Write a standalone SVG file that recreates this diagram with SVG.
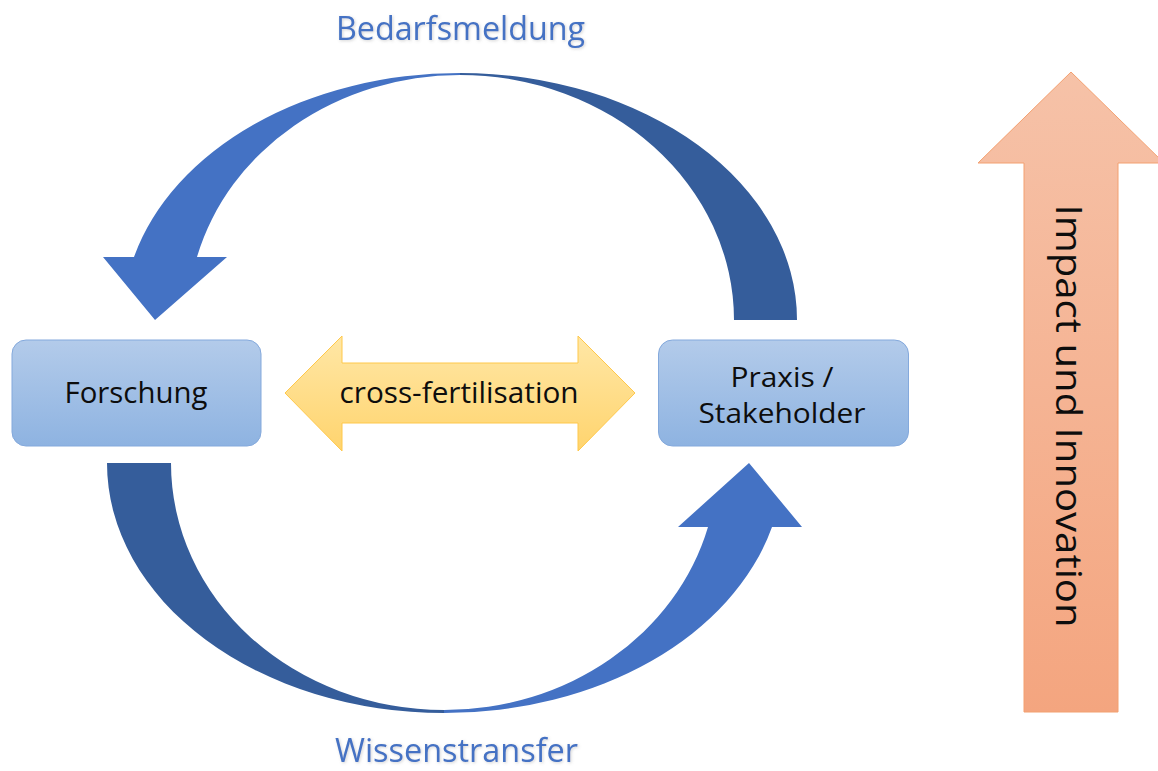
<svg xmlns="http://www.w3.org/2000/svg" width="1158" height="771" viewBox="0 0 1158 771">
  <defs>
    <linearGradient id="boxGrad" x1="0" y1="0" x2="0" y2="1">
      <stop offset="0" stop-color="#B3CBEA"/>
      <stop offset="1" stop-color="#8EB3E1"/>
    </linearGradient>
    <linearGradient id="yellowGrad" x1="0" y1="0" x2="0" y2="1">
      <stop offset="0" stop-color="#FFE7A6"/>
      <stop offset="1" stop-color="#FFD46E"/>
    </linearGradient>
    <linearGradient id="orangeGrad" x1="0" y1="0" x2="0" y2="1">
      <stop offset="0" stop-color="#F6C2A8"/>
      <stop offset="1" stop-color="#F4A57F"/>
    </linearGradient>
    <filter id="glow" x="-10%" y="-30%" width="120%" height="160%">
      <feGaussianBlur in="SourceAlpha" stdDeviation="1.4" result="b"/>
      <feOffset in="b" dx="1" dy="1" result="o"/>
      <feFlood flood-color="#808080" flood-opacity="0.35"/>
      <feComposite in2="o" operator="in" result="s"/>
      <feMerge><feMergeNode in="s"/><feMergeNode in="SourceGraphic"/></feMerge>
    </filter>
  </defs>
  <style>
    .box { fill: url(#boxGrad); stroke: #84A9DC; stroke-width: 1; }
    .txt { font-family: "Open Sans", "Liberation Sans", sans-serif; fill: #0D0D0D; text-anchor: middle; }
    .lbl { font-family: "Open Sans", "Liberation Sans", sans-serif; fill: #4472C4; text-anchor: middle; font-size: 33px; }
    .dark { fill: #355D9B; }
    .light { fill: #4472C4; }
  </style>

  <g id="connectors">
    <g id="top-arrow">
      <path class="dark" d="M 460,73 A 337,247 0 0 1 797,320 L 734,320 A 274,245 0 0 0 460,75 Z"/>
      <path class="light" d="M 460,73 A 337,247 0 0 0 134,257 L 103,257 L 155,320 L 227,257 L 197,257 A 272,245 0 0 1 460,75 Z"/>
    </g>
    <g id="bottom-arrow">
      <path class="dark" d="M 107,463 A 337,250 0 0 0 444,713 L 444,710 A 273,247 0 0 1 171,463 Z"/>
      <path class="light" d="M 444,713 A 339,250 0 0 0 772,527 L 802,527 L 749,463 L 678,527 L 708,527 A 273,247 0 0 1 444,710 Z"/>
    </g>
    <g id="cross-arrow">
      <path d="M 285,393 L 342,336 L 342,363 L 578,363 L 578,336 L 635,393 L 578,451 L 578,423 L 342,423 L 342,451 Z" fill="url(#yellowGrad)" stroke="#FFC84A" stroke-width="1"/>
      <text class="txt" x="459" y="403" font-size="30" textLength="239" lengthAdjust="spacingAndGlyphs">cross-fertilisation</text>
    </g>
  </g>

  <g id="forschung">
    <rect class="box" x="12" y="340" width="249" height="106" rx="14" ry="14"/>
    <text class="txt" x="136" y="403" font-size="30" textLength="143" lengthAdjust="spacingAndGlyphs">Forschung</text>
  </g>

  <g id="praxis">
    <rect class="box" x="658.5" y="340" width="250" height="106" rx="14" ry="14"/>
    <text class="txt" x="782" y="387" font-size="28" textLength="103" lengthAdjust="spacingAndGlyphs">Praxis /</text>
    <text class="txt" x="782" y="423" font-size="28" textLength="167" lengthAdjust="spacingAndGlyphs">Stakeholder</text>
  </g>

  <g id="impact">
    <path d="M 1071,72 L 1164,163 L 1118,163 L 1118,712 L 1024,712 L 1024,163 L 978,163 Z" fill="url(#orangeGrad)" stroke="#F3A070" stroke-width="1"/>
    <text class="txt" transform="translate(1056,416) rotate(90)" x="0" y="0" font-size="36" textLength="423" lengthAdjust="spacingAndGlyphs">Impact und Innovation</text>
  </g>

  <g id="label-bedarfsmeldung" filter="url(#glow)">
    <text class="lbl" x="460.5" y="39.5" textLength="249" lengthAdjust="spacingAndGlyphs">Bedarfsmeldung</text>
  </g>
  <g id="label-wissenstransfer" filter="url(#glow)">
    <text class="lbl" x="456.5" y="762" font-size="32" textLength="243" lengthAdjust="spacingAndGlyphs">Wissenstransfer</text>
  </g>
</svg>
